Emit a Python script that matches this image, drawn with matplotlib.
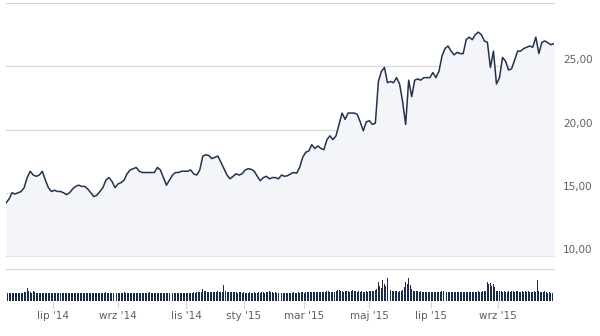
import matplotlib
matplotlib.use("Agg")
import matplotlib.pyplot as plt
import numpy as np
import pandas as pd

# trading sessions (Warsaw exchange, holidays removed)
holidays = ["2014-06-19", "2014-08-15", "2014-11-11", "2014-12-24", "2014-12-25",
            "2014-12-26", "2014-12-31", "2015-01-01", "2015-01-06", "2015-04-06",
            "2015-05-01", "2015-06-04"]
sessions = pd.bdate_range("2014-05-16", "2015-10-22")
sessions = sessions[~sessions.isin(pd.to_datetime(holidays))]

# closing price, read every second session
price = [14.2, 14.5, 15.0, 14.9, 15.0, 15.1, 15.4, 16.2, 16.7, 16.4,
         16.3, 16.4, 16.7, 16.0, 15.4, 15.1, 15.2, 15.1, 15.1, 15.0,
         14.85, 15.0, 15.3, 15.5, 15.6, 15.5, 15.5, 15.3, 15.0, 14.7,
         14.8, 15.1, 15.4, 16.0, 16.2, 15.9, 15.4, 15.7, 15.8, 16.0,
         16.5, 16.8, 16.9, 17.0, 16.7, 16.6, 16.6, 16.6, 16.6, 16.6,
         17.0, 16.8, 16.2, 15.6, 16.0, 16.4, 16.6, 16.6, 16.7, 16.7,
         16.7, 16.8, 16.5, 16.4, 16.8, 17.9, 18.0, 17.95, 17.7, 17.8,
         17.9, 17.4, 16.9, 16.4, 16.1, 16.3, 16.5, 16.4, 16.5, 16.8,
         16.9, 16.85, 16.7, 16.3, 15.95, 16.2, 16.3, 16.1, 16.2, 16.2,
         16.1, 16.4, 16.3, 16.35, 16.5, 16.6, 16.55, 17.0, 17.8, 18.2,
         18.3, 18.8, 18.5, 18.7, 18.5, 18.4, 19.2, 19.5, 19.2, 19.5,
         20.4, 21.3, 20.8, 21.3, 21.3, 21.3, 21.2, 20.6, 19.9, 20.6,
         20.7, 20.4, 20.5, 23.8, 24.6, 24.9, 23.7, 23.8, 23.7, 24.1,
         23.6, 22.2, 20.4, 23.9, 22.6, 23.9, 24.0, 23.9, 24.1, 24.1,
         24.1, 24.5, 24.1, 24.6, 25.8, 26.4, 26.6, 26.2, 25.9, 26.1,
         26.0, 26.0, 27.1, 27.3, 27.1, 27.5, 27.7, 27.5, 27.0, 26.9,
         24.9, 26.2, 23.6, 24.1, 25.7, 25.4, 24.7, 24.8, 25.5, 26.2,
         26.2, 26.4, 26.5, 26.6, 26.5, 27.3, 26.0, 26.9, 27.0, 26.85,
         26.7, 26.8]

# volume per session
volume = [80, 82, 78, 80, 84, 80, 78, 82, 80, 84, 80, 82, 86, 90, 130, 100, 88, 84, 96, 86,
          84, 82, 80, 84, 80, 78, 80, 82, 80, 80, 78, 80, 82, 80, 78, 80, 80, 82, 80, 78,
          80, 82, 80, 78, 80, 84, 80, 80, 82, 80, 78, 80, 80, 82, 80, 84, 80, 82, 80, 80,
          82, 80, 84, 80, 82, 80, 86, 82, 80, 84, 80, 82, 80, 84, 82, 80, 80, 82, 86, 80,
          82, 80, 84, 82, 80, 80, 82, 84, 80, 82, 80, 82, 80, 80, 84, 86, 82, 80, 82, 80,
          82, 80, 84, 80, 82, 80, 80, 82, 80, 84, 80, 82, 80, 82, 80, 84, 82, 80, 80, 84,
          82, 80, 84, 82, 86, 84, 86, 88, 90, 92, 120, 96, 104, 92, 88, 90, 92, 88, 90, 86,
          100, 90, 92, 94, 160, 96, 92, 90, 88, 86, 90, 88, 86, 84, 86, 88, 84, 86, 84, 82,
          84, 86, 82, 84, 86, 84, 82, 86, 84, 88, 86, 84, 88, 86, 100, 88, 86, 84, 86, 84,
          82, 84, 80, 82, 84, 82, 84, 80, 82, 84, 86, 84, 82, 86, 84, 88, 86, 84, 86, 90,
          88, 86, 90, 88, 92, 90, 88, 94, 92, 90, 88, 92, 104, 96, 92, 90, 94, 92, 96, 110,
          108, 100, 96, 94, 98, 100, 96, 94, 96, 110, 98, 96, 94, 98, 92, 96, 94, 92, 96, 94,
          98, 96, 100, 104, 108, 120, 190, 150, 130, 210, 170, 150, 230, 140, 110, 100, 98, 96, 100, 94,
          98, 100, 110, 140, 190, 170, 230, 160, 120, 104, 100, 98, 96, 94, 96, 94, 92, 90, 94, 92,
          90, 92, 94, 92, 90, 88, 92, 94, 96, 100, 94, 92, 90, 92, 88, 90, 92, 90, 88, 92,
          90, 88, 92, 90, 94, 92, 90, 92, 94, 90, 92, 94, 96, 94, 92, 96, 98, 100, 190, 170,
          180, 150, 170, 140, 104, 100, 98, 96, 94, 96, 92, 94, 96, 92, 98, 96, 94, 100, 96, 92,
          94, 96, 92, 98, 94, 96, 92, 94, 90, 96, 92, 210, 100, 94, 92, 90, 96, 88, 80, 90,
          84, 78, 82]

y_ticks = [10, 15, 20, 25]
months_pl = ["sty", "lut", "mar", "kwi", "maj", "cze", "lip", "sie", "wrz", "paź", "lis", "gru"]

line_col = "#22324f"
grid_col = "#d8d8d8"
text_col = "#606060"

fig = plt.figure(figsize=(6, 3.36), dpi=100)
ax = fig.add_axes([6 / 600, 1 - 256 / 336, 548 / 600, 253 / 336])
axv = fig.add_axes([6 / 600, 1 - 301 / 336, 548 / 600, 32 / 336])

n = len(sessions)
xp = np.arange(0, n, 2)[:len(price)]

ax.fill_between(xp, price, 10, color="#f3f5f8", lw=0)
ax.plot(xp, price, color=line_col, lw=1.1)
for v in [10, 15, 20, 25, 30]:
    ax.axhline(v, color=grid_col, lw=0.8, clip_on=False, zorder=0)
ax.set_xlim(0, n - 1)
ax.set_ylim(10, 30)
ax.set_xticks([])
ax.set_yticks([])
for s in ax.spines.values():
    s.set_visible(False)
ax.patch.set_alpha(0)
for v in y_ticks:
    ax.annotate(f"{v},00", xy=(1, v), xycoords=("axes fraction", "data"),
                xytext=(6.5, 4.3), textcoords="offset points",
                ha="left", va="center", fontsize=7.5, color=text_col)

# volume panel
axv.bar(np.arange(len(volume)), volume, width=0.65, color="#1b2d4b", lw=0)
axv.set_xlim(0, n - 1)
axv.set_ylim(0, 320)
axv.axhline(320, color=grid_col, lw=0.8, clip_on=False)
axv.set_yticks([])
for s in axv.spines.values():
    s.set_visible(False)

month_start = pd.Series(np.arange(n), index=sessions).groupby(
    [sessions.year, sessions.month]).first()
tick_pos, tick_lab = [], []
for (yr, mo), i in month_start.items():
    if mo % 2 == 1 and i > 0:
        tick_pos.append(i)
        tick_lab.append(f"{months_pl[mo - 1]} '{str(yr)[2:]}")
axv.set_xticks(tick_pos)
axv.set_xticklabels(tick_lab, fontsize=7.5, color=text_col)
axv.tick_params(axis="x", length=5, width=0.8, color="#ccd6eb", pad=2)

fig.savefig("out.png", dpi=100)
